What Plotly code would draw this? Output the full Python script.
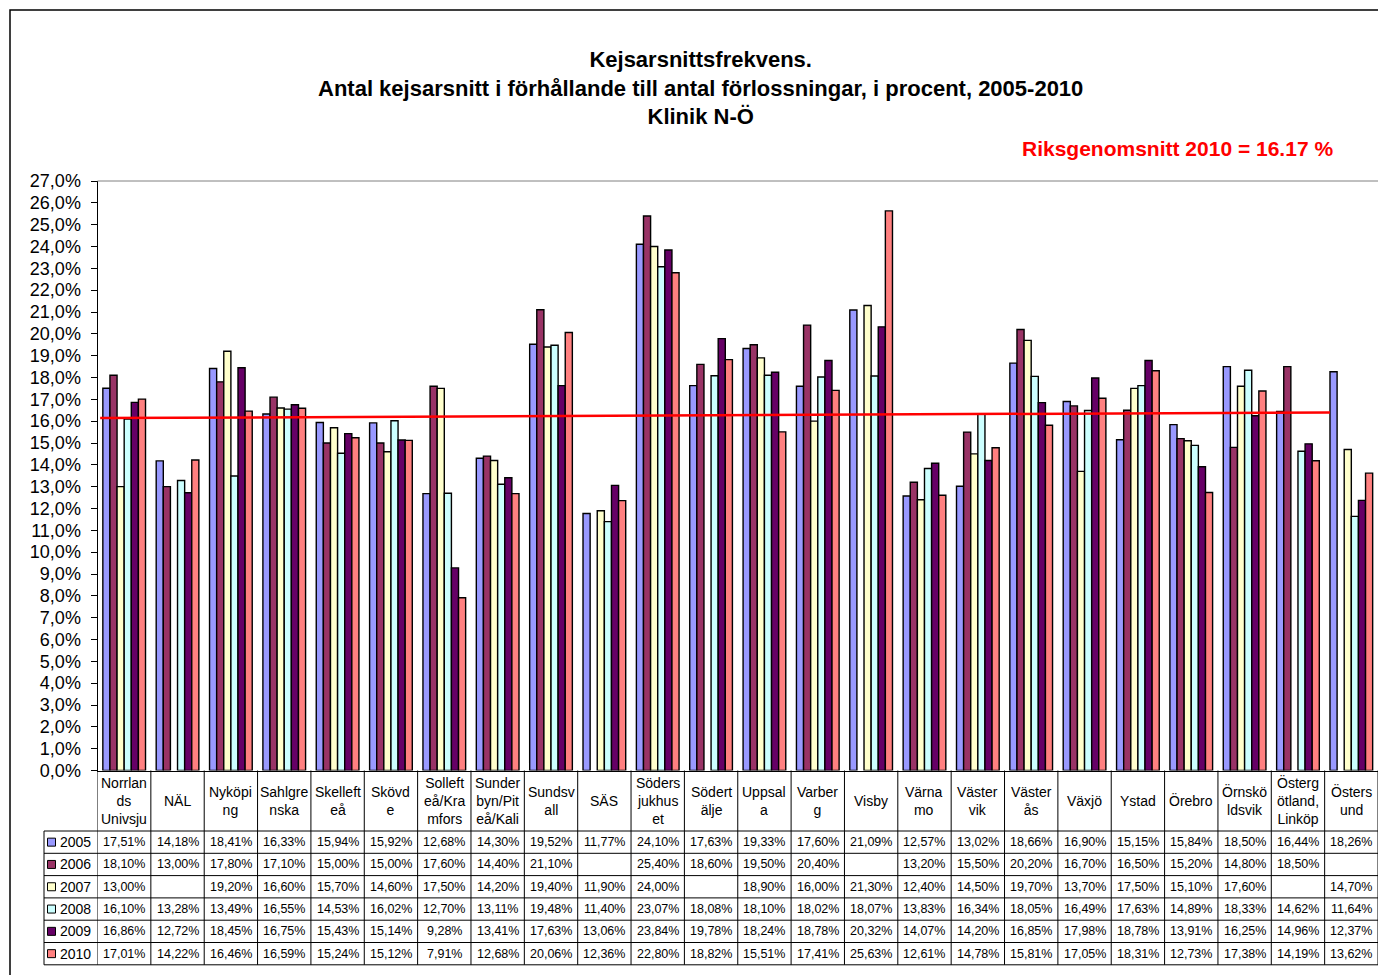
import plotly.graph_objects as go

W, H = 1378, 975

categories = ["Norrlands Univsju", "NÄL", "Nyköping", "Sahlgrenska", "Skellefteå", "Skövde",
              "Sollefteå/Kramfors", "Sunderbyn/Piteå/Kalix", "Sundsvall", "SÄS", "Södersjukhuset",
              "Södertälje", "Uppsala", "Varberg", "Visby", "Värnamo", "Västervik", "Västerås",
              "Växjö", "Ystad", "Örebro", "Örnsköldsvik", "Östergötland, Linköping", "Östersund"]
header_labels = ["Norrlan<br>ds<br>Univsju", "NÄL", "Nyköpi<br>ng", "Sahlgre<br>nska", "Skelleft<br>eå",
                 "Skövd<br>e", "Solleft<br>eå/Kra<br>mfors", "Sunder<br>byn/Pit<br>eå/Kali", "Sundsv<br>all",
                 "SÄS", "Söders<br>jukhus<br>et", "Södert<br>älje", "Uppsal<br>a", "Varber<br>g", "Visby",
                 "Värna<br>mo", "Väster<br>vik", "Väster<br>ås", "Växjö", "Ystad", "Örebro",
                 "Örnskö<br>ldsvik", "Österg<br>ötland,<br>Linköp", "Östers<br>und"]
years = ["2005", "2006", "2007", "2008", "2009", "2010"]
v2005 = [17.51, 14.18, 18.41, 16.33, 15.94, 15.92, 12.68, 14.30, 19.52, 11.77, 24.10, 17.63,
         19.33, 17.60, 21.09, 12.57, 13.02, 18.66, 16.90, 15.15, 15.84, 18.50, 16.44, 18.26]
v2006 = [18.10, 13.00, 17.80, 17.10, 15.00, 15.00, 17.60, 14.40, 21.10, None, 25.40, 18.60,
         19.50, 20.40, None, 13.20, 15.50, 20.20, 16.70, 16.50, 15.20, 14.80, 18.50, None]
v2007 = [13.00, None, 19.20, 16.60, 15.70, 14.60, 17.50, 14.20, 19.40, 11.90, 24.00, None,
         18.90, 16.00, 21.30, 12.40, 14.50, 19.70, 13.70, 17.50, 15.10, 17.60, None, 14.70]
v2008 = [16.10, 13.28, 13.49, 16.55, 14.53, 16.02, 12.70, 13.11, 19.48, 11.40, 23.07, 18.08,
         18.10, 18.02, 18.07, 13.83, 16.34, 18.05, 16.49, 17.63, 14.89, 18.33, 14.62, 11.64]
v2009 = [16.86, 12.72, 18.45, 16.75, 15.43, 15.14, 9.28, 13.41, 17.63, 13.06, 23.84, 19.78,
         18.24, 18.78, 20.32, 14.07, 14.20, 16.85, 17.98, 18.78, 13.91, 16.25, 14.96, 12.37]
v2010 = [17.01, 14.22, 16.46, 16.59, 15.24, 15.12, 7.91, 12.68, 20.06, 12.36, 22.80, 18.82,
         15.51, 17.41, 25.63, 12.61, 14.78, 15.81, 17.05, 18.31, 12.73, 17.38, 14.19, 13.62]
series = [v2005, v2006, v2007, v2008, v2009, v2010]
colors = ["#9999FF", "#993366", "#FFFFCC", "#CCFFFF", "#660066", "#FF8080"]

# national average reference line (as drawn, slightly sloped)
riks_x = [-0.45, 22.6]
riks_y = [16.14, 16.40]

ytick_vals = list(range(0, 28))
ytick_text = [f"{v},0%" for v in ytick_vals]


def px(x):
    return x / W


def py(y):
    return 1 - y / H


FONT = "Liberation Sans, Arial, sans-serif"
NARROW = "Liberation Sans Narrow, Arial Narrow, Liberation Sans, sans-serif"

PLOT_L, PLOT_R, PLOT_T, PLOT_B = 97.5, 1378, 181, 770.5
HEAD_B = 831
ROW_H = 22.3
TAB_L = 44

fig = go.Figure()
for yr, vals, col in zip(years, series, colors):
    fig.add_trace(go.Bar(name=yr, x=categories, y=vals,
                         marker=dict(color=col, line=dict(color="#000000", width=1.4))))

fig.add_trace(go.Scatter(x=riks_x, y=riks_y, xaxis="x2", yaxis="y", mode="lines",
                         line=dict(color="#FF0000", width=2.5), showlegend=False,
                         hoverinfo="skip"))

annotations = []
title_lines = ["Kejsarsnittsfrekvens.",
               "Antal kejsarsnitt i förhållande till antal förlossningar, i procent, 2005-2010",
               "Klinik N-Ö"]
annotations.append(dict(text="<br>".join(f"<b>{t}</b>" for t in title_lines),
                        x=px(700), y=py(87.5), xref="paper", yref="paper", showarrow=False,
                        xanchor="center", yanchor="middle",
                        font=dict(family=FONT, size=22, color="#000000")))
annotations.append(dict(text="<b>Riksgenomsnitt 2010 = 16.17 %</b>", x=px(1335), y=py(148),
                        xref="paper", yref="paper", showarrow=False, xanchor="right",
                        yanchor="middle", font=dict(family=FONT, size=21, color="#FF0000")))

# header labels
for cat, lab in zip(categories, header_labels):
    annotations.append(dict(text=lab, x=cat, y=py((PLOT_B + HEAD_B) / 2), xref="x", yref="paper",
                            showarrow=False, xanchor="center", yanchor="middle",
                            font=dict(family=FONT, size=14, color="#000000")))

shapes = []
# table rows
for r, (yr, vals, col) in enumerate(zip(years, series, colors)):
    yc = HEAD_B + ROW_H * (r + 0.5)
    shapes.append(dict(type="rect", xref="paper", yref="paper", x0=px(47.5), x1=px(55.5),
                       y0=py(yc - 4), y1=py(yc + 4), fillcolor=col,
                       line=dict(color="#000000", width=1)))
    annotations.append(dict(text=yr, x=px(58), y=py(yc), xref="paper", yref="paper",
                            showarrow=False, xanchor="left", yanchor="middle",
                            font=dict(family=FONT, size=14, color="#000000")))
    for cat, v in zip(categories, vals):
        if v is None:
            continue
        annotations.append(dict(text=f"{v:.2f}".replace(".", ",") + "%", x=cat, y=py(yc),
                                xref="x", yref="paper", showarrow=False, xanchor="center",
                                yanchor="middle",
                                font=dict(family=NARROW, size=12.5, color="#000000")))

# table grid
for r in range(len(years) + 1):
    yy = HEAD_B + ROW_H * r
    shapes.append(dict(type="line", xref="paper", yref="paper", x0=px(TAB_L), x1=1,
                       y0=py(yy), y1=py(yy), line=dict(color="#000000", width=1)))
shapes.append(dict(type="line", xref="paper", yref="paper", x0=px(TAB_L), x1=px(TAB_L),
                   y0=py(HEAD_B), y1=py(HEAD_B + ROW_H * len(years)),
                   line=dict(color="#000000", width=1)))
for i in range(len(categories) + 1):
    shapes.append(dict(type="line", xref="x", yref="paper", x0=i - 0.5, x1=i - 0.5,
                       y0=py(PLOT_B), y1=py(HEAD_B + ROW_H * len(years)),
                       line=dict(color="#000000", width=1)))
# plot top border
shapes.append(dict(type="line", xref="paper", yref="paper", x0=px(PLOT_L), x1=1,
                   y0=py(PLOT_T), y1=py(PLOT_T), line=dict(color="#808080", width=1)))
# outer chart frame
shapes.append(dict(type="rect", xref="paper", yref="paper", x0=px(10), x1=px(1420),
                   y0=py(1020), y1=py(10), line=dict(color="#000000", width=1.5),
                   fillcolor="rgba(0,0,0,0)"))

fig.update_layout(
    width=W, height=H, margin=dict(l=0, r=0, t=0, b=0, autoexpand=False),
    paper_bgcolor="#FFFFFF", plot_bgcolor="#FFFFFF",
    barmode="group", bargap=0.2, bargroupgap=0,
    showlegend=False,
    font=dict(family=FONT, color="#000000"),
    xaxis=dict(domain=[px(PLOT_L), 1], range=[-0.5, 23.5], showticklabels=False,
               showline=True, linecolor="#000000", linewidth=1, ticks="",
               showgrid=False, zeroline=False, fixedrange=True, automargin=False),
    xaxis2=dict(overlaying="x", range=[-0.5, 23.5], visible=False, fixedrange=True,
                automargin=False),
    yaxis=dict(domain=[py(PLOT_B), py(PLOT_T)], range=[0, 27], tickvals=ytick_vals,
               ticktext=ytick_text, tickfont=dict(family=FONT, size=18, color="#000000"),
               ticks="outside", ticklen=6, tickcolor="#000000", showline=True,
               linecolor="#000000", linewidth=1, showgrid=False, zeroline=False,
               ticklabelstandoff=6, fixedrange=True, automargin=False),
    annotations=annotations, shapes=shapes,
)

post = ("document.documentElement.style.overflow='hidden';"
        "document.body.style.margin='0';document.body.style.overflow='hidden';"
        "var gd=document.getElementById('{plot_id}');"
        "gd.style.position='fixed';gd.style.left='0px';gd.style.top='0px';")

fig.write_html("out.html", post_script=post, config={"displayModeBar": False})
